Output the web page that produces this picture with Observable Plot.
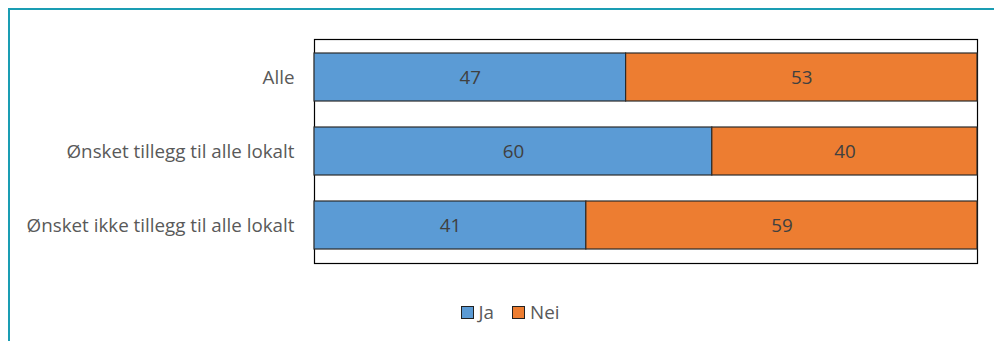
<!DOCTYPE html>
<html>
<head>
<meta charset="utf-8">
<script src="https://cdn.jsdelivr.net/npm/d3@7"></script>
<script src="https://cdn.jsdelivr.net/npm/@observablehq/plot@0.6"></script>
<style>
  body { margin: 0; background: #fff; }
  #wrap { position: relative; width: 994px; height: 341px; overflow: hidden; font-family: "Open Sans", sans-serif; }
  #border { position: absolute; left: 8px; top: 8px; width: 1000px; height: 400px; border-top: 2px solid #1a9db3; border-left: 2px solid #1a9db3; box-sizing: border-box; }
  #chart { position: absolute; left: 0; top: 0; }
  #legend { position: absolute; top: 299px; left: 0; width: 994px; display: flex; justify-content: center; gap: 18px; font-size: 18.8px; color: #595959; padding-left: 26px; box-sizing: border-box; }
  .item { display: flex; align-items: center; gap: 5px; }
  .sw { width: 11px; height: 11px; border: 1px solid #222; }
</style>
</head>
<body>
<div id="wrap">
  <div id="border"></div>
  <div id="chart"></div>
  <div id="legend"></div>
</div>
<script>
const categories = ["Alle", "Ønsket tillegg til alle lokalt", "Ønsket ikke tillegg til alle lokalt"];
const series = ["Ja", "Nei"];
const jaValues = [47, 60, 41];
const neiValues = [53, 40, 59];
const colors = ["#5b9bd5", "#ed7d31"];

const data = [];
categories.forEach((c, i) => {
  data.push({group: c, answer: "Ja", value: jaValues[i]});
  data.push({group: c, answer: "Nei", value: neiValues[i]});
});

const chart = Plot.plot({
  width: 994,
  height: 280,
  marginLeft: 314,
  marginRight: 17,
  marginTop: 39,
  marginBottom: 17,
  style: {fontFamily: "'Open Sans', sans-serif", fontSize: "18.8px", color: "#595959", background: "transparent"},
  x: {domain: [0, 100], axis: null},
  y: {domain: categories, paddingInner: 0.347, paddingOuter: 0.167, label: null, tickSize: 0, tickPadding: 20},
  color: {domain: series, range: colors},
  marks: [
    Plot.frame({stroke: "#000", strokeWidth: 1.2}),
    Plot.barX(data, Plot.stackX({x: "value", y: "group", fill: "answer", z: "answer", stroke: "#2b2b2b", strokeWidth: 1.2})),
    Plot.text(data, Plot.stackX({x: "value", y: "group", z: "answer", text: d => String(d.value), fill: "#404040", fontSize: 18.8})),
    Plot.axisY({tickSize: 0, tickPadding: 20, fontSize: 18.8, fill: "#595959", label: null})
  ]
});
document.getElementById("chart").appendChild(chart);

const legend = document.getElementById("legend");
series.forEach((s, i) => {
  const item = document.createElement("div");
  item.className = "item";
  const sw = document.createElement("div");
  sw.className = "sw";
  sw.style.background = colors[i];
  const lbl = document.createElement("span");
  lbl.textContent = s;
  item.appendChild(sw);
  item.appendChild(lbl);
  legend.appendChild(item);
});
</script>
</body>
</html>
